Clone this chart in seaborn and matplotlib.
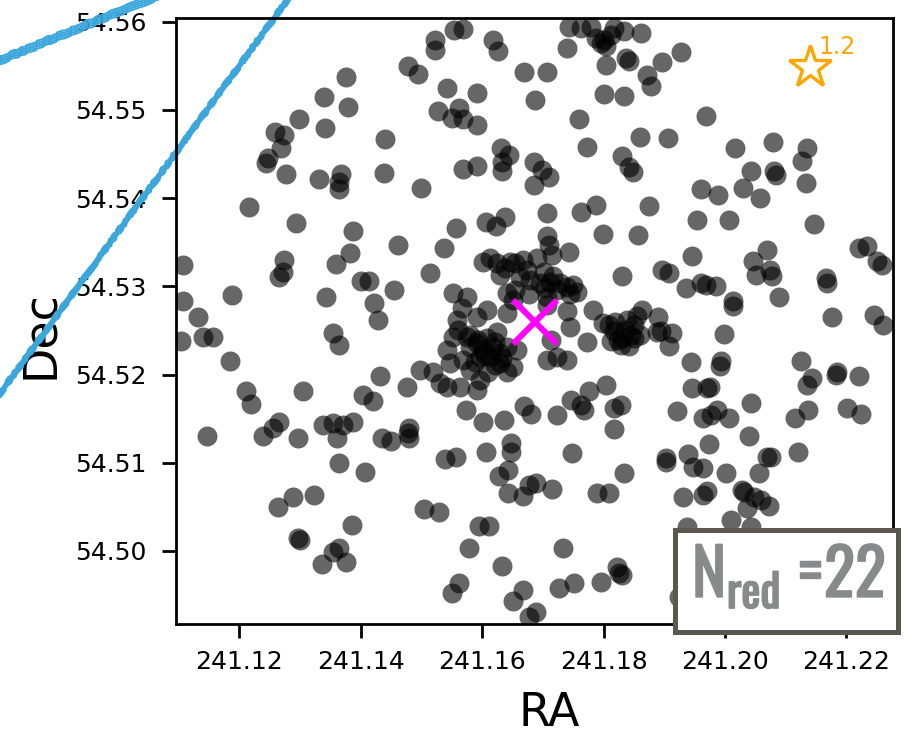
import os
import numpy as np
import pandas as pd
import matplotlib
matplotlib.use("Agg")
import matplotlib.pyplot as plt
import matplotlib.patheffects as pe
from matplotlib import font_manager
from matplotlib.font_manager import FontProperties
from matplotlib.patches import Rectangle
import seaborn as sns

# ---- member galaxy positions (degrees) ----
ra = [
    241.1553, 241.1568, 241.1522, 241.1522, 241.1618, 241.1626, 241.1669, 241.1478, 241.1494, 241.1376,
    241.1542, 241.1591, 241.1687, 241.1339, 241.1379, 241.1527, 241.1562, 241.1550, 241.1568, 241.1591,
    241.1298, 241.1259, 241.1273, 241.1341, 241.1268, 241.1247, 241.1244, 241.1440, 241.1631, 241.1644,
    241.1633, 241.1633, 241.1568, 241.1591, 241.1277, 241.1331, 241.1367, 241.1364, 241.1364, 241.1438,
    241.1499, 241.1216, 241.1293, 241.1637, 241.1606, 241.1623,
    241.1743, 241.1763, 241.1779, 241.1787, 241.1801, 241.1817, 241.1834, 241.1862, 241.1812, 241.1796,
    241.1804, 241.1740, 241.1804, 241.1837, 241.1842, 241.1896, 241.1927, 241.1871, 241.1878, 241.1801,
    241.1834, 241.1707, 241.1759, 241.1969, 241.1773, 241.1860, 241.1906, 241.1830, 241.1842, 241.1848,
    241.1685, 241.1698, 241.1710, 241.1685, 241.2016, 241.2079, 241.2135, 241.2127, 241.2043, 241.2081,
    241.2084, 241.2133, 241.1960, 241.1988, 241.2030, 241.2058, 241.1707, 241.1763, 241.1787, 241.1875,
    241.1954, 241.2007, 241.2147,
    241.1537, 241.1557, 241.1461, 241.1387, 241.1107, 241.1273, 241.1265, 241.1272, 241.1359, 241.1382,
    241.1400, 241.1413, 241.1455, 241.1514, 241.1343, 241.1422, 241.1428, 241.1188, 241.1107, 241.1132,
    241.1140, 241.1156, 241.1104, 241.1354, 241.1364, 241.1184, 241.1432, 241.1404, 241.1420, 241.1305,
    241.1211, 241.1219, 241.1573, 241.1601, 241.1636, 241.1669, 241.1680,
    241.1552, 241.1575, 241.1567, 241.1601, 241.1624, 241.1646, 241.1667, 241.1674, 241.1662, 241.1629,
    241.1641, 241.1654, 241.1651, 241.1695, 241.1712, 241.1723, 241.1740, 241.1750, 241.1756, 241.1707,
    241.1641, 241.1608, 241.1591, 241.1558, 241.1552, 241.1560, 241.1591, 241.1601, 241.1618, 241.1629,
    241.1641, 241.1657, 241.1596, 241.1613, 241.1575, 241.1580, 241.1629, 241.1641, 241.1651, 241.1568,
    241.1547, 241.1542, 241.1497, 241.1519, 241.1530, 241.1542, 241.1476, 241.1563, 241.1591, 241.1707,
    241.1723, 241.1740, 241.1713, 241.1773, 241.1783, 241.1740, 241.1745, 241.1799, 241.1690,
    241.1702, 241.1707, 241.1677,
    241.1580, 241.1593, 241.1608, 241.1621, 241.1604, 241.1588, 241.1621, 241.1609, 241.1596, 241.1580,
    241.1632, 241.1624, 241.1613, 241.1637, 241.1654, 241.1679, 241.1703, 241.1728, 241.1745, 241.1717,
    241.1819, 241.1835, 241.1860, 241.1823, 241.1839,
    241.1707, 241.1710, 241.1715, 241.1743, 241.1799, 241.1857, 241.1830, 241.1896, 241.1908, 241.1946,
    241.1936, 241.1960, 241.1969, 241.1985, 241.2013, 241.2013, 241.2046, 241.2069, 241.2051, 241.2074,
    241.2077, 241.2089, 241.2166, 241.2168, 241.2221, 241.2234, 241.2250, 241.2259, 241.2176, 241.2245,
    241.2260, 241.1809, 241.1817, 241.1830, 241.1845, 241.1850, 241.1863, 241.1855, 241.1829, 241.1842,
    241.1812, 241.1850, 241.1890, 241.1888, 241.1913, 241.1908, 241.1894, 241.1998, 241.1944, 241.1992,
    241.1993, 241.1946, 241.1975, 241.1970, 241.2043, 241.2125, 241.2143, 241.2135, 241.2184, 241.2183,
    241.2221, 241.1804, 241.1776, 241.1746, 241.1763, 241.1768, 241.1817, 241.1829, 241.1723, 241.1921,
    241.1963, 241.1977, 241.1987, 241.2007, 241.2115, 241.2137, 241.2201, 241.2224,
    241.1146, 241.1239, 241.1255, 241.1265, 241.1296, 241.1338, 241.1354, 241.1371, 241.1387, 241.1361,
    241.1364, 241.1407, 241.1435, 241.1450, 241.1478, 241.1479, 241.1479, 241.1539, 241.1557, 241.1606,
    241.1647, 241.1647, 241.1642, 241.1628, 241.1642, 241.1667, 241.1677, 241.1264, 241.1288, 241.1323,
    241.1385, 241.1296, 241.1300, 241.1354, 241.1364, 241.1375, 241.1336, 241.1504, 241.1528, 241.1595,
    241.1611, 241.1578, 241.1633, 241.1562, 241.1550, 241.1667, 241.1651, 241.1677,
    241.1817, 241.1748, 241.1689, 241.1715, 241.1789, 241.1809, 241.1834, 241.1903, 241.1903, 241.1939,
    241.1947, 241.1963, 241.1974, 241.2039, 241.2002, 241.2056, 241.2076, 241.2069, 241.2120, 241.1931,
    241.1963, 241.1971, 241.2028, 241.2031, 241.2048, 241.2059, 241.2072, 241.2036, 241.2009, 241.1937,
    241.2043, 241.1733, 241.1822, 241.1825, 241.1830, 241.1796, 241.1751, 241.1726, 241.1689, 241.1924,
]
dec = [
    54.5591, 54.5592, 54.5579, 54.5568, 54.5579, 54.5567, 54.5543, 54.5550, 54.5541, 54.5537,
    54.5525, 54.5519, 54.5511, 54.5515, 54.5503, 54.5499, 54.5502, 54.5491, 54.5490, 54.5483,
    54.5490, 54.5475, 54.5472, 54.5479, 54.5457, 54.5445, 54.5440, 54.5467, 54.5457, 54.5449,
    54.5441, 54.5431, 54.5433, 54.5436, 54.5427, 54.5422, 54.5427, 54.5418, 54.5410, 54.5428,
    54.5411, 54.5390, 54.5372, 54.5379, 54.5373, 54.5368,
    54.5594, 54.5593, 54.5594, 54.5582, 54.5579, 54.5593, 54.5589, 54.5587, 54.5585, 54.5576,
    54.5572, 54.5570, 54.5551, 54.5559, 54.5555, 54.5554, 54.5566, 54.5540, 54.5527, 54.5518,
    54.5516, 54.5543, 54.5490, 54.5493, 54.5458, 54.5469, 54.5468, 54.5448, 54.5435, 54.5430,
    54.5441, 54.5432, 54.5424, 54.5415, 54.5457, 54.5464, 54.5457, 54.5442, 54.5431, 54.5431,
    54.5426, 54.5417, 54.5410, 54.5404, 54.5411, 54.5400, 54.5383, 54.5384, 54.5392, 54.5391,
    54.5375, 54.5375, 54.5371,
    54.5343, 54.5366, 54.5347, 54.5363, 54.5324, 54.5330, 54.5311, 54.5316, 54.5325, 54.5338,
    54.5306, 54.5306, 54.5296, 54.5315, 54.5288, 54.5281, 54.5262, 54.5290, 54.5283, 54.5265,
    54.5243, 54.5242, 54.5238, 54.5247, 54.5233, 54.5215, 54.5198, 54.5177, 54.5170, 54.5181,
    54.5181, 54.5167, 54.5160, 54.5146, 54.5148, 54.5164, 54.5155,
    54.5292, 54.5288, 54.5275, 54.5328, 54.5326, 54.5328, 54.5330, 54.5318, 54.5311, 54.5313,
    54.5292, 54.5296, 54.5284, 54.5304, 54.5305, 54.5296, 54.5299, 54.5301, 54.5293, 54.5288,
    54.5270, 54.5273, 54.5265, 54.5262, 54.5243, 54.5250, 54.5236, 54.5228, 54.5231, 54.5224,
    54.5231, 54.5228, 54.5220, 54.5220, 54.5243, 54.5231, 54.5213, 54.5203, 54.5209, 54.5216,
    54.5213, 54.5228, 54.5205, 54.5203, 54.5190, 54.5186, 54.5186, 54.5186, 54.5182, 54.5216,
    54.5220, 54.5216, 54.5239, 54.5237, 54.5273, 54.5272, 54.5254, 54.5258, 54.5332,
    54.5316, 54.5279, 54.5291,
    54.5245, 54.5239, 54.5241, 54.5237, 54.5222, 54.5214, 54.5211, 54.5203, 54.5194, 54.5205,
    54.5219, 54.5248, 54.5332, 54.5321, 54.5327, 54.5307, 54.5298, 54.5304, 54.5291, 54.5312,
    54.5260, 54.5250, 54.5245, 54.5239, 54.5262,
    54.5357, 54.5347, 54.5335, 54.5339, 54.5359, 54.5358, 54.5312, 54.5318, 54.5315, 54.5334,
    54.5298, 54.5304, 54.5301, 54.5300, 54.5283, 54.5278, 54.5329, 54.5341, 54.5313, 54.5318,
    54.5312, 54.5288, 54.5309, 54.5304, 54.5343, 54.5346, 54.5329, 54.5324, 54.5265, 54.5267,
    54.5256, 54.5256, 54.5249, 54.5241, 54.5245, 54.5256, 54.5273, 54.5266, 54.5233, 54.5232,
    54.5238, 54.5241, 54.5265, 54.5248, 54.5247, 54.5232, 54.5249, 54.5246, 54.5214, 54.5210,
    54.5215, 54.5185, 54.5186, 54.5185, 54.5168, 54.5215, 54.5196, 54.5188, 54.5203, 54.5200,
    54.5198, 54.5188, 54.5181, 54.5171, 54.5165, 54.5160, 54.5162, 54.5165, 54.5154, 54.5159,
    54.5151, 54.5154, 54.5160, 54.5151, 54.5151, 54.5160, 54.5162, 54.5155,
    54.5130, 54.5130, 54.5139, 54.5146, 54.5128, 54.5143, 54.5145, 54.5143, 54.5146, 54.5128,
    54.5100, 54.5090, 54.5128, 54.5125, 54.5134, 54.5139, 54.5128, 54.5104, 54.5107, 54.5112,
    54.5122, 54.5112, 54.5092, 54.5085, 54.5066, 54.5062, 54.5075, 54.5050, 54.5061, 54.5063,
    54.5029, 54.5015, 54.5012, 54.4999, 54.5003, 54.4987, 54.4985, 54.5048, 54.5044, 54.5028,
    54.5028, 54.5003, 54.4983, 54.4964, 54.4952, 54.4956, 54.4943, 54.4925,
    54.5138, 54.5111, 54.5077, 54.5070, 54.5066, 54.5066, 54.5088, 54.5105, 54.5101, 54.5110,
    54.5095, 54.5094, 54.5121, 54.5130, 54.5088, 54.5088, 54.5106, 54.5106, 54.5112, 54.5061,
    54.5063, 54.5068, 54.5069, 54.5067, 54.5061, 54.5058, 54.5051, 54.5049, 54.5035, 54.5027,
    54.5027, 54.5003, 54.4982, 54.4975, 54.4973, 54.4965, 54.4964, 54.4958, 54.4931, 54.4948,
]

# cluster centre and a nearby bright source
center_ra, center_dec = 241.1687, 54.5260
star_ra, star_dec = 241.2140, 54.5549
star_label = "1.2"
n_red = 22

# two streak tracks crossing the upper-left corner
track_a_ra = [241.0740, 241.1310]
track_a_dec = [54.5117, 54.5654]
track_b_ra = [241.0740, 241.1100]
track_b_dec = [54.5538, 54.5639]

xticks = [241.12, 241.14, 241.16, 241.18, 241.20, 241.22]
yticks = [54.50, 54.51, 54.52, 54.53, 54.54, 54.55, 54.56]
xlim = (241.10954, 241.22766)
ylim = (54.49171, 54.56048)

sns.set_style("ticks")
plt.rcParams["font.family"] = ["DejaVu Sans"]
plt.rcParams["text.color"] = "black"
plt.rcParams["axes.labelcolor"] = "black"

fig = plt.figure(figsize=(9.13, 7.37), dpi=100)
ax = fig.add_axes([0.19277, 0.15332, 0.78532, 0.82293])

df = pd.DataFrame({"RA": ra, "Dec": dec})
sns.scatterplot(data=df, x="RA", y="Dec", ax=ax, color="black", alpha=0.6,
                s=207, linewidth=0, legend=False, zorder=1)

# streaks: a few thin, slightly offset strands each
streak_color = "#3aa6dc"
for tra, tdec in ((track_a_ra, track_a_dec), (track_b_ra, track_b_dec)):
    for off in (-0.00045, -0.00022, 0.0, 0.00022, 0.00045):
        ln, = ax.plot(tra, np.asarray(tdec) + off, color=streak_color, lw=1.4,
                      clip_on=False, zorder=2)
        ln.set_sketch_params(scale=0.6, length=40, randomness=20)

ax.plot([center_ra], [center_dec], marker="x", color="#ff00ff", ms=31, mew=4.3,
        ls="none", zorder=4)
ax.plot([star_ra], [star_dec], marker="*", ms=32, mfc="white", mec="#ffa500",
        mew=2.4, ls="none", zorder=4)
ax.annotate(star_label, (star_ra, star_dec), xytext=(6, 9), textcoords="offset points",
            ha="left", va="baseline", color="#ffa500", fontsize=17)

ax.set_xlim(*xlim)
ax.set_ylim(*ylim)
ax.set_xticks(xticks, labels=[f"{t:.2f}" for t in xticks])
ax.set_yticks(yticks, labels=[f"{t:.2f}" for t in yticks])
ax.tick_params(axis="both", direction="out", length=10, width=2, labelsize=18,
               colors="black", labelcolor="black")
ax.tick_params(axis="y", pad=11)
ax.tick_params(axis="x", pad=9)
for sp in ax.spines.values():
    sp.set_visible(True)
    sp.set_linewidth(2.0)
    sp.set_color("black")

ax.set_xlabel("RA", fontsize=33, color="black")
ax.set_ylabel("Dec", fontsize=33, color="black")
ax.xaxis.set_label_coords(0.52, -0.111)
ax.yaxis.set_label_coords(-0.157, 0.478)


def condensed_font():
    prefs = ["oswaldbold", "oswaldsemibold", "oswald[wght]", "oswaldregular",
             "leaguegothicregular", "leaguegothic",
             "notosansextracondensedbold", "robotocondensedbold", "opensanscondbold",
             "notosanscondensedbold", "liberationsansnarrowbold", "dejavusanscondensedbold"]
    files = {}
    for f in font_manager.fontManager.ttflist:
        key = os.path.splitext(os.path.basename(f.fname))[0].lower()
        key = key.replace("-", "").replace("_", "").replace(" ", "")
        files.setdefault(key, f.fname)
    for p in prefs:
        if p in files:
            return FontProperties(fname=files[p])
    for p in prefs:
        for key, path in files.items():
            if key.startswith(p):
                return FontProperties(fname=path)
    return FontProperties(family="DejaVu Sans", weight="bold")


# N_red box in the lower-right corner
label_grey = "#868a8b"
box = Rectangle((0.6960, -0.0140), 1.0063 - 0.6960, 0.1542 + 0.0140,
                transform=ax.transAxes, facecolor="white", edgecolor="#5a5650",
                linewidth=3.6, clip_on=False, zorder=5)
ax.add_patch(box)
nprop = condensed_font()
base_size = 58
nprop.set_size(base_size)
ntxt = ax.text(0.7197, 0.0445, r"$\mathregular{N_{red}}$ =" + str(n_red),
               transform=ax.transAxes, ha="left", va="baseline",
               color=label_grey, fontproperties=nprop, zorder=6,
               path_effects=[pe.withStroke(linewidth=1.2, foreground=label_grey)])
fig.canvas.draw()
target_w = 193
w = ntxt.get_window_extent().width
if w > target_w:
    nprop.set_size(base_size * target_w / w)
    ntxt.set_fontproperties(nprop)

fig.savefig("out.png", dpi=100)
